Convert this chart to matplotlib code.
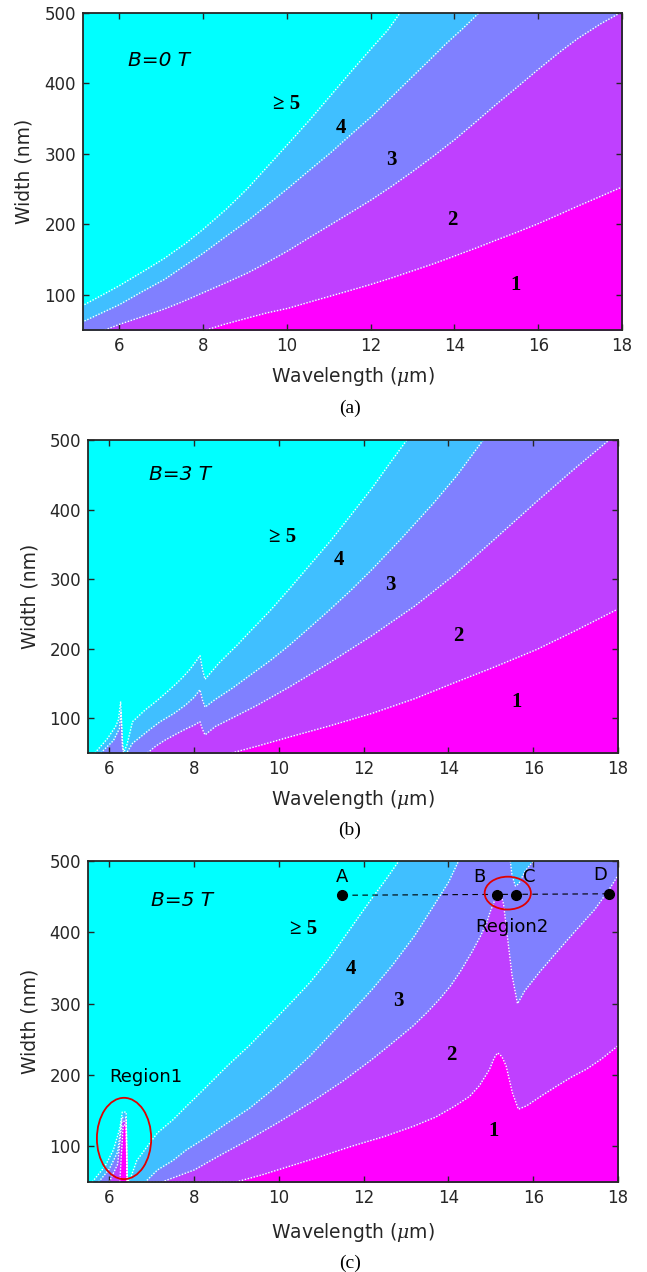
import numpy as np
import matplotlib
matplotlib.use('Agg')
import matplotlib.pyplot as plt
from matplotlib.patches import Ellipse

# region colours (MATLAB "cool", 5 levels): >=5, 4, 3, 2, 1
C5, C4, C3, C2, C1 = '#00FFFF', '#40BFFF', '#8080FF', '#BF40FF', '#FF00FF'

# ---- panel (a), B = 0 T : boundary curves (wavelength um, width nm)
a_b54_x = [5.1, 5.6, 6.0, 6.59, 7.08, 7.58, 8.0, 8.56, 9.06, 9.55, 10.04, 10.54, 11.03, 11.52, 12.02, 12.41, 12.7]
a_b54_y = [84, 100, 113, 134, 152, 173, 193, 222, 251, 283, 315, 348, 382, 416, 450, 476, 500]
a_b43_x = [5.1, 6.0, 6.5, 7.08, 7.5, 8.0, 8.5, 9.06, 9.5, 10.04, 10.5, 11.03, 11.5, 12.02, 12.5, 13.0, 13.4, 13.79, 14.2, 14.58]
a_b43_y = [61, 86, 103, 122, 139, 159, 181, 205, 226, 252, 275, 301, 326, 353, 381, 410, 433, 456, 478, 500]
a_b32_x = [5.65, 6.0, 6.5, 7.08, 7.5, 8.0, 8.5, 9.06, 9.5, 10.04, 10.5, 11.03, 11.5, 12.02, 12.5, 13.0, 13.5, 14.0, 14.5, 14.97, 15.5, 15.96, 16.5, 16.95, 17.5, 17.95]
a_b32_y = [50, 58, 68, 80, 90, 103, 116, 131, 145, 163, 180, 199, 216, 235, 254, 275, 297, 320, 345, 369, 395, 418, 444, 464, 485, 500]
a_b21_x = [8.07, 8.5, 9.06, 9.5, 10.04, 10.5, 11.03, 11.5, 12.02, 12.5, 13.0, 13.5, 14.0, 14.5, 14.97, 15.5, 15.96, 16.5, 16.95, 17.5, 18.0]
a_b21_y = [50, 58, 67, 74, 81, 89, 98, 106, 115, 124, 134, 144, 155, 166, 177, 189, 200, 214, 226, 240, 253]

# ---- panel (b), B = 3 T
b_b54_x = [5.66, 5.95, 6.15, 6.22, 6.27, 6.31, 6.34, 6.42, 6.55, 6.85, 7.1, 7.33, 7.55, 7.72, 7.9, 8.05, 8.14, 8.2, 8.26, 8.4, 8.6, 9.0, 9.28, 9.8, 10.25, 10.7, 11.22, 11.7, 12.2, 12.6, 13.02]
b_b54_y = [50, 70, 88, 98, 124, 70, 50, 62, 95, 112, 124, 136, 148, 158, 170, 182, 190, 170, 156, 166, 180, 204, 222, 255, 286, 318, 355, 392, 431, 465, 500]
b_b43_x = [5.8, 6.1, 6.24, 6.28, 6.31, 6.34, 6.41, 6.55, 6.94, 7.2, 7.53, 7.8, 8.0, 8.14, 8.2, 8.26, 8.5, 8.9, 9.28, 9.8, 10.25, 10.7, 11.22, 11.7, 12.2, 12.9, 13.66, 14.2, 14.82]
b_b43_y = [50, 68, 85, 110, 60, 50, 50, 64, 83, 95, 107, 119, 130, 141, 126, 116, 127, 143, 160, 183, 205, 229, 257, 284, 314, 359, 410, 449, 500]
b_b32_x = [6.9, 7.1, 7.33, 7.6, 7.82, 8.0, 8.14, 8.2, 8.26, 8.5, 8.89, 9.5, 10.25, 11.2, 12.2, 13.2, 14.14, 15.1, 16.09, 17.0, 17.79]
b_b32_y = [50, 60, 69, 78, 85, 90, 95, 84, 76, 88, 100, 119, 145, 180, 219, 261, 306, 358, 412, 460, 500]
b_b21_x = [8.89, 9.5, 10.25, 11.2, 12.2, 13.2, 14.14, 15.1, 16.09, 17.0, 18.0]
b_b21_y = [50, 60, 73, 89, 107, 128, 151, 174, 199, 226, 257]

# ---- panel (c), B = 5 T
c_b54_x = [5.6, 5.9, 6.1, 6.25, 6.31, 6.4, 6.42, 6.5, 6.65, 6.9, 7.14, 7.5, 7.82, 8.3, 8.79, 9.3, 9.76, 10.25, 10.74, 11.15, 11.52, 11.9, 12.2, 12.55, 12.83]
c_b54_y = [50, 72, 95, 125, 148, 148, 50, 55, 80, 100, 119, 137, 156, 184, 213, 241, 269, 299, 330, 360, 391, 423, 448, 476, 500]
c_b43_x = [5.75, 6.0, 6.2, 6.3, 6.4, 6.43, 6.85, 7.14, 7.5, 7.82, 8.3, 8.79, 9.3, 9.76, 10.25, 10.74, 11.2, 11.71, 12.2, 12.68, 13.2, 13.66, 14.0, 14.24]
c_b43_y = [50, 68, 92, 140, 140, 50, 50, 67, 80, 95, 113, 133, 153, 175, 200, 227, 256, 288, 320, 354, 395, 438, 470, 500]
c_b32_x = [6.0, 6.2, 6.3, 6.4, 6.43, 7.24, 8.01, 8.6, 9.28, 10.0, 10.74, 11.5, 12.2, 12.7, 13.17, 13.5, 13.8, 14.05, 14.28, 14.55, 14.75, 14.9, 14.98, 15.08, 15.14, 15.2, 15.3, 15.4, 15.5, 15.63, 15.8, 16.16, 16.55, 16.95, 17.45, 17.79, 18.0]
c_b32_y = [50, 75, 135, 135, 50, 50, 67, 87, 109, 134, 161, 191, 222, 246, 269, 288, 307, 325, 345, 372, 394, 413, 428, 443, 452, 460, 440, 390, 340, 300, 318, 345, 372, 399, 432, 460, 480]
c_b21_x = [6.25, 6.33, 6.4, 6.42, 8.99, 9.6, 10.25, 11.0, 11.71, 12.5, 13.17, 13.7, 14.14, 14.5, 14.73, 14.97, 15.08, 15.16, 15.26, 15.36, 15.51, 15.65, 15.85, 16.2, 16.57, 16.9, 17.25, 17.6, 18.0]
c_b21_y = [50, 130, 130, 50, 50, 60, 72, 86, 100, 114, 128, 141, 156, 170, 185, 208, 224, 231, 226, 213, 175, 152, 157, 171, 185, 197, 208, 222, 241]
c_tongue_x = [15.46, 15.5, 15.58, 15.66, 15.8, 16.0]
c_tongue_y = [500, 480, 465, 468, 485, 500]

# points A-D on the dashed line in (c)
pt_names = ['A', 'B', 'C', 'D']
pt_x = [11.5, 15.14, 15.6, 17.79]
pt_y = [452, 452, 452, 454]

region_labels = ['\u2265 5', '4', '3', '2', '1']
a_lab_x = [10.0, 11.28, 12.49, 13.96, 15.47]
a_lab_y = [371, 337, 292, 206, 114]
b_lab_x = [10.09, 11.42, 12.63, 14.24, 15.6]
b_lab_y = [361, 327, 292, 218, 123]
c_lab_x = [10.59, 11.69, 12.83, 14.06, 15.07]
c_lab_y = [405, 349, 304, 228, 121]

TXT = '#262626'
plt.rcParams['font.family'] = ['DejaVu Sans']
plt.rcParams['mathtext.fontset'] = 'dejavuserif'

W, H = 647, 1272
fig = plt.figure(figsize=(W / 100, H / 100), dpi=100)


def add_axes(l, t, r, b):
    return fig.add_axes([l / W, 1 - b / H, (r - l) / W, (b - t) / H])


def fill_below(ax, xs, ys, color):
    xs = list(xs)
    ys = list(ys)
    if ys[-1] >= 500 and xs[-1] < 18:
        xs.append(18.0)
        ys.append(500)
    ax.fill_between(xs, 50, np.minimum(ys, 500), color=color, lw=0, zorder=1)


def draw_line(ax, xs, ys):
    ax.plot(xs, ys, color='white', lw=1.0, ls=(0, (1, 1.2)), zorder=3)


panels = [
    (add_axes(83, 13, 622, 330), 5.13, 'B=0 T', 6.2, 433, a_lab_x, a_lab_y,
     [(a_b54_x, a_b54_y), (a_b43_x, a_b43_y), (a_b32_x, a_b32_y), (a_b21_x, a_b21_y)],
     '(a)', 377, 408, 24),
    (add_axes(88, 440, 618, 753), 5.5, 'B=3 T', 6.94, 451, b_lab_x, b_lab_y,
     [(b_b54_x, b_b54_y), (b_b43_x, b_b43_y), (b_b32_x, b_b32_y), (b_b21_x, b_b21_y)],
     '(b)', 800, 830, 30),
    (add_axes(88, 861, 618, 1182), 5.5, 'B=5 T', 6.99, 445, c_lab_x, c_lab_y,
     [(c_b54_x, c_b54_y), (c_b43_x, c_b43_y), (c_b32_x, c_b32_y), (c_b21_x, c_b21_y)],
     '(c)', 1233, 1263, 30),
]

for i, (ax, xmin, title, tx, ty, lx, ly, curves, tag, xl_y, tag_y, yl_x) in enumerate(panels):
    ax.set_xlim(xmin, 18)
    ax.set_ylim(50, 500)
    ax.set_facecolor(C5)
    ax.set_xticks([6, 8, 10, 12, 14, 16, 18])
    ax.set_yticks([100, 200, 300, 400, 500])
    ax.tick_params(direction='in', top=True, right=True, length=4, width=1,
                   labelsize=12, labelcolor=TXT, color=TXT, pad=5)
    for s in ax.spines.values():
        s.set_linewidth(1.3)
        s.set_color(TXT)
        s.set_zorder(5)

    colors = [C4, C3, C2, C1]
    for k, (cx, cy) in enumerate(curves):
        fill_below(ax, cx, cy, colors[k])
        if i == 2 and k == 1:
            ax.fill(c_tongue_x, c_tongue_y, color=C4, lw=0, zorder=1)
    for cx, cy in curves:
        draw_line(ax, cx, cy)
    if i == 2:
        draw_line(ax, c_tongue_x, c_tongue_y)

    ax.text(tx, ty, title, fontsize=14.5, style='italic', color='black',
            va='center', ha='left', zorder=6)
    for t, x, y in zip(region_labels, lx, ly):
        ax.text(x, y, t, fontsize=15, fontweight='bold', family='Liberation Serif',
                ha='center', va='center', zorder=6)

    ax.set_xlabel('Wavelength ($\\mu$m)', fontsize=13.5, color=TXT)
    ax.set_ylabel('Width (nm)', fontsize=13.5, color=TXT)
    pos = ax.get_position()
    ax.xaxis.set_label_coords(0.5, ((1 - xl_y / H) - pos.y0) / pos.height)
    ax.xaxis.label.set_va('center')
    ax.yaxis.set_label_coords((yl_x / W - pos.x0) / pos.width, 0.5)
    ax.yaxis.label.set_va('center')
    fig.text(350 / W, 1 - tag_y / H, tag, ha='center', va='center', fontsize=14,
             family='Liberation Serif')

axc = panels[2][0]
# points and annotations in (c)
axc.plot([pt_x[0], pt_x[-1]], [pt_y[0], pt_y[-1]], color='black', lw=0.8,
         ls=(0, (5, 4)), zorder=6)
axc.plot(pt_x, pt_y, 'o', color='black', ms=7, zorder=7)
name_dx = [0.0, -0.4, 0.3, -0.2]
for n, x, y, dx in zip(pt_names, pt_x, pt_y, name_dx):
    axc.text(x + dx, y + 26, n, fontsize=13, ha='center', va='center', zorder=7)
axc.text(15.5, 408, 'Region2', fontsize=13, ha='center', va='center', zorder=7)
axc.text(6.87, 197, 'Region1', fontsize=13, ha='center', va='center', zorder=7)
axc.add_patch(Ellipse((15.4, 455), 1.09, 46, fill=False, ec='#E00000', lw=1.3, zorder=7))
axc.add_patch(Ellipse((6.35, 111), 1.28, 114, fill=False, ec='#E00000', lw=1.3, zorder=7))

fig.savefig('out.png', dpi=100)
